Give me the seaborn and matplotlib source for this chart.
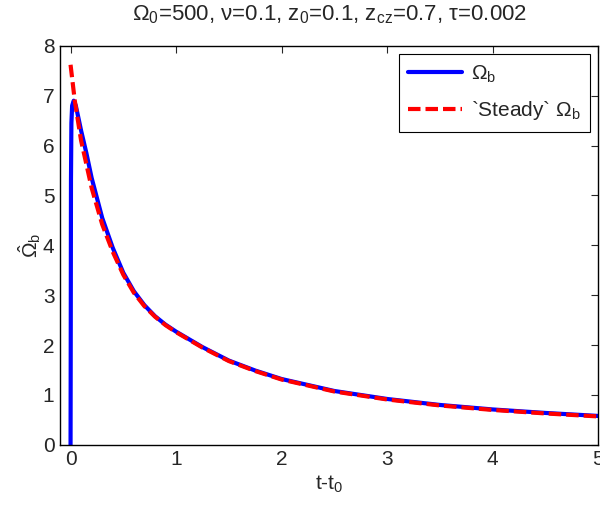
import numpy as np
import pandas as pd
import matplotlib
matplotlib.use("Agg")
import matplotlib.pyplot as plt
import seaborn as sns

# values
t_blue = [0.0, 0.002, 0.004, 0.008, 0.015, 0.03, 0.05, 0.1, 0.15, 0.2, 0.3, 0.4, 0.5,
          0.6, 0.7, 0.8, 0.9, 1.0, 1.25, 1.5, 1.75, 2.0, 2.5, 3.0, 3.5, 4.0, 4.5, 5.0]
omega_b = [0.0, 2.4, 5.3, 6.45, 6.8, 6.9, 6.8, 6.3, 5.85, 5.35, 4.55, 3.95, 3.45,
           3.08, 2.8, 2.58, 2.41, 2.27, 1.96, 1.69, 1.49, 1.32, 1.08, 0.92, 0.80, 0.71, 0.64, 0.58]

t_red = [0.0, 0.04, 0.1, 0.2, 0.3, 0.4, 0.5, 0.6, 0.7, 0.8, 0.9, 1.0, 1.25, 1.5, 1.75,
         2.0, 2.5, 3.0, 3.5, 4.0, 4.5, 5.0]
omega_steady = [7.62, 6.9, 6.1, 5.15, 4.42, 3.87, 3.41, 3.05, 2.78, 2.57, 2.4, 2.26, 1.95,
                1.68, 1.48, 1.31, 1.07, 0.91, 0.79, 0.70, 0.63, 0.57]

x_ticks = [0, 1, 2, 3, 4, 5]
y_ticks = [0, 1, 2, 3, 4, 5, 6, 7, 8]

sns.set_style("white")
plt.rcParams['font.family'] = ['Liberation Sans', 'DejaVu Sans']
plt.rcParams['mathtext.fontset'] = 'custom'
plt.rcParams['mathtext.rm'] = 'Liberation Sans'
plt.rcParams['mathtext.it'] = 'Liberation Sans'

df_b = pd.DataFrame({'t': t_blue, 'w': omega_b})
df_s = pd.DataFrame({'t': t_red, 'w': omega_steady})

fig = plt.figure(figsize=(6, 5.09), dpi=100)
ax = fig.add_axes([0.1, 0.126, 0.897, 0.784])

sns.lineplot(data=df_b, x='t', y='w', ax=ax, color='#0000ff', lw=3,
             label=r'$\Omega_{\rm b}$', sort=False)
sns.lineplot(data=df_s, x='t', y='w', ax=ax, color='#ff0000', lw=3,
             label=r'`Steady` $\Omega_{\rm b}$', sort=False)
ax.lines[1].set_dashes([3, 1.2])

ax.set_xlim(-0.1, 5)
ax.set_ylim(0, 8)
ax.set_xticks(x_ticks)
ax.set_yticks(y_ticks)
ax.tick_params(direction='in', length=5, width=0.8, labelsize=15, top=True, right=True,
               pad=4)
for s in ax.spines.values():
    s.set_color('black')
    s.set_linewidth(1.0)

ax.set_xlabel(r'$\rm t$-$\rm t_0$', fontsize=15, labelpad=3)
ax.set_ylabel(r'$\hat{\Omega}_b$', fontsize=15, labelpad=0)
ax.set_title(r'$\Omega_0$=500, $\nu$=0.1, $\rm z_0$=0.1, $\rm z_{cz}$=0.7, $\tau$=0.002',
             fontsize=16, pad=18)

leg = ax.legend(loc='upper right', fontsize=15, frameon=True, fancybox=False,
                handlelength=2.6, borderaxespad=0.4, borderpad=0.45, labelspacing=0.7,
                handletextpad=0.4)
leg.get_frame().set_edgecolor('black')
leg.get_frame().set_linewidth(0.8)
leg.get_frame().set_alpha(1)

fig.savefig('out.png', dpi=100, facecolor='white')
